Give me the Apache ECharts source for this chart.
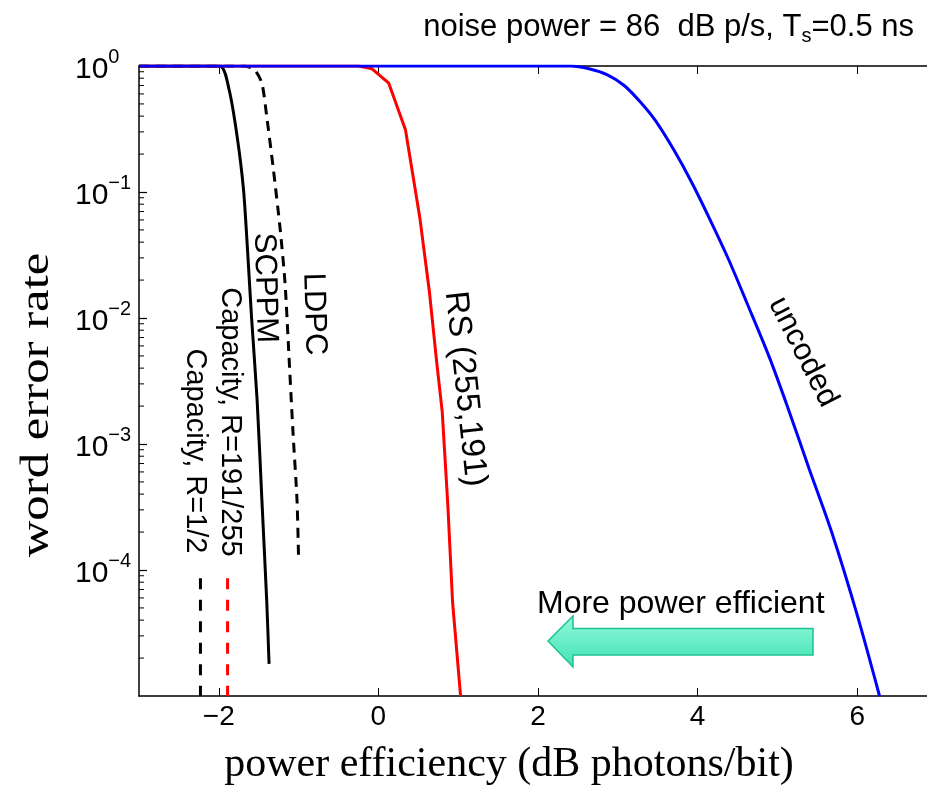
<!DOCTYPE html>
<html>
<head>
<meta charset="utf-8">
<script src="https://cdn.jsdelivr.net/npm/echarts@6/dist/echarts.min.js"></script>
<style>
  html, body { margin: 0; padding: 0; background: #fff; }
  #chart { width: 927px; height: 789px; }
</style>
</head>
<body>
<div id="chart"></div>
<script>
// word error rate vs power efficiency
var xTicks = [-2, 0, 2, 4, 6];

var uncoded = [[-3, 1], [2.41, 1], [2.64, 0.95], [2.87, 0.85], [3.08, 0.70], [3.28, 0.52],
  [3.47, 0.37], [3.70, 0.217], [3.93, 0.118], [4.16, 0.0596], [4.39, 0.029], [4.62, 0.0131],
  [4.90, 0.00487], [5.13, 0.00195], [5.40, 6.3e-4], [5.68, 2.0e-4], [6.00, 4.4e-5], [6.28, 1e-5]];

var rs = [[-3, 1], [-0.25, 1], [-0.08, 0.95], [0.13, 0.73], [0.34, 0.31], [0.52, 0.062],
  [0.64, 0.016], [0.73, 0.0045], [0.80, 0.0018], [0.87, 3.3e-4], [0.93, 5.5e-5], [1.03, 1e-5]];

var scppm = [[-3, 1], [-1.99, 1], [-1.87, 0.645], [-1.77, 0.275], [-1.69, 0.104], [-1.64, 0.0347],
  [-1.59, 0.0102], [-1.52, 0.00224], [-1.46, 3.6e-4], [-1.40, 5.8e-5], [-1.37, 1.8e-5]];

var ldpc = [[-3, 1], [-1.68, 1], [-1.55, 0.93], [-1.46, 0.73], [-1.40, 0.40], [-1.32, 0.159],
  [-1.23, 0.050], [-1.17, 0.019], [-1.13, 0.0065], [-1.07, 0.00123], [-1.02, 3.6e-4], [-1.00, 1.2e-4]];

var capHalf = [[-2.23, 8.6e-5], [-2.23, 1e-5]];
var cap191 = [[-1.89, 8.6e-5], [-1.89, 1e-5]];

// log minor ticks on the left axis
var minorTicks = [];
for (var d = -5; d < 0; d++) {
  for (var k = 2; k <= 9; k++) minorTicks.push([-3, k * Math.pow(10, d)]);
}

var sans = 'Liberation Sans';

var chart = echarts.init(document.getElementById('chart'));

function lineSeries(data, color, width, type, smooth) {
  return {
    type: 'line', data: data, showSymbol: false, symbol: 'none', silent: true,
    smooth: smooth || false,
    lineStyle: { color: color, width: width, type: type || 'solid' },
    animation: false
  };
}

function label(text, x, y, deg, size) {
  return {
    type: 'text', x: x, y: y, rotation: deg * Math.PI / 180,
    style: { text: text, font: size + 'px "Liberation Sans"', fill: '#000', align: 'center', verticalAlign: 'middle' }
  };
}

var option = {
  animation: false,
  grid: { left: 139, right: 0, top: 66, bottom: 93 },
  xAxis: [{
    type: 'value', min: -3, max: 6.875,
    axisLine: { onZero: false, lineStyle: { color: '#000', width: 1.5 } },
    axisTick: { inside: true, length: 8, customValues: xTicks, lineStyle: { color: '#000' } },
    axisLabel: {
      customValues: xTicks, margin: 7, color: '#000', fontFamily: sans, fontSize: 28,
      formatter: function (v) { return v < 0 ? '\u2212' + Math.abs(v) : String(v); }
    },
    splitLine: { show: false }
  }, {
    type: 'value', min: -3, max: 6.875, position: 'top',
    axisLine: { onZero: false, lineStyle: { color: '#000', width: 1.5 } },
    axisTick: { inside: true, length: 8, customValues: xTicks, lineStyle: { color: '#000' } },
    axisLabel: { show: false },
    splitLine: { show: false }
  }],
  yAxis: {
    type: 'log', logBase: 10, min: 1e-5, max: 1,
    axisLine: { onZero: false, lineStyle: { color: '#000', width: 1.5 } },
    axisTick: { inside: true, length: 8, lineStyle: { color: '#000', width: 1.2 } },
    axisLabel: {
      showMinLabel: false, margin: 64, align: 'left', color: '#000',
      formatter: function (v) {
        var e = Math.round(Math.log10(v));
        return '{b|10}{s|' + (e < 0 ? '\u2212' + (-e) : e) + '}';
      },
      rich: {
        b: { fontFamily: sans, fontSize: 30, lineHeight: 38, verticalAlign: 'bottom', color: '#000' },
        s: { fontFamily: sans, fontSize: 20, lineHeight: 38, verticalAlign: 'top', color: '#000' }
      }
    },
    splitLine: { show: false }
  },
  series: [
    lineSeries(capHalf, '#000', 3, [11, 10.5]),
    lineSeries(cap191, '#ff0000', 3, [11, 10.5]),
    lineSeries(scppm, '#000', 3, 'solid', 0.25),
    lineSeries(ldpc, '#000', 3, [10, 7], 0.25),
    lineSeries(rs, '#ff0000', 3),
    lineSeries(uncoded, '#0000ff', 3, 'solid', 0.3),
    {
      type: 'custom', silent: true, data: minorTicks, clip: false, z: 5,
      renderItem: function (params, api) {
        var p = api.coord([api.value(0), api.value(1)]);
        return { type: 'line', shape: { x1: p[0], y1: p[1], x2: p[0] + 5, y2: p[1] }, style: { stroke: '#000', lineWidth: 1 } };
      }
    }
  ],
  graphic: [
    {
      type: 'text', x: 914, y: 27,
      style: {
        text: '{t|noise power = 86  dB p/s, T}{u|s}{t|=0.5 ns}', align: 'right', verticalAlign: 'middle',
        rich: {
          t: { fontFamily: sans, fontSize: 31, lineHeight: 38, verticalAlign: 'middle', fill: '#000' },
          u: { fontFamily: sans, fontSize: 20, lineHeight: 38, verticalAlign: 'bottom', fill: '#000' }
        }
      }
    },
    { type: 'text', x: 509, y: 765, style: { text: 'power efficiency (dB photons/bit)', font: '42px "Liberation Serif"', fill: '#000', align: 'center', verticalAlign: 'middle' } },
    { type: 'text', x: 37, y: 405, rotation: Math.PI / 2, scaleX: 1.27, style: { text: 'word error rate', font: '40px "Liberation Serif"', fill: '#000', align: 'center', verticalAlign: 'middle' } },
    label('SCPPM', 265, 288, -88.5, 31),
    label('LDPC', 314, 314, -88.5, 31),
    label('Capacity, R=191/255', 230, 422, -90, 29),
    label('Capacity, R=1/2', 195, 451, -90, 29),
    label('RS (255,191)', 465, 389, -84, 33),
    label('uncoded', 803, 352, -63, 31),
    { type: 'text', x: 537, y: 604, style: { text: 'More power efficient', font: '32px "Liberation Sans"', fill: '#000', align: 'left', verticalAlign: 'middle' } },
    {
      type: 'polygon', z: 10,
      shape: { points: [[548, 641], [573, 616], [573, 628.5], [813, 628.5], [813, 655], [573, 655], [573, 667]] },
      style: {
        fill: new echarts.graphic.LinearGradient(0, 0, 0, 1, [
          { offset: 0, color: '#94fadc' }, { offset: 1, color: '#3fe2b2' }
        ]),
        stroke: '#1cc290', lineWidth: 1.5
      }
    }
  ]
};

chart.setOption(option);
</script>
</body>
</html>
